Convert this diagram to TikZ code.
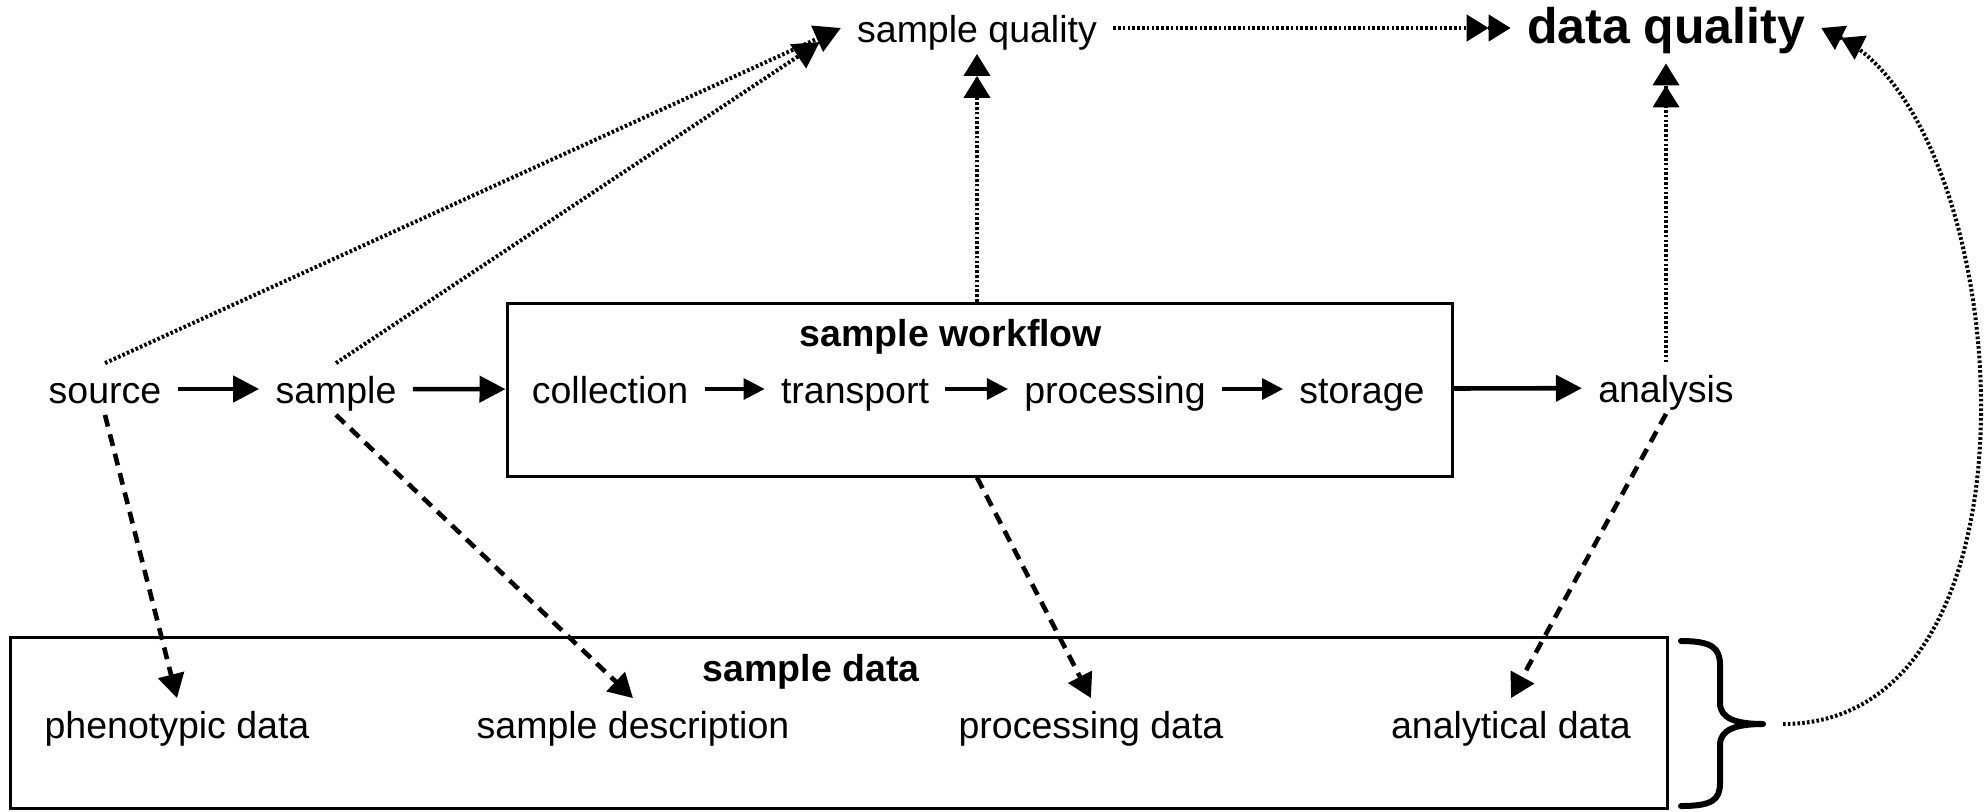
\documentclass[tikz,border=0pt]{standalone}
\usepackage{fontspec}
\setmainfont{Liberation Sans}
\usetikzlibrary{arrows.meta,calc}

\begin{document}
\begin{tikzpicture}[x=0.5pt,y=-0.5pt,
  lbl/.style={inner xsep=8pt, inner ysep=4pt, text height=16pt, text depth=1.5pt,
              font=\fontsize{18.75pt}{22pt}\selectfont},
  ttl/.style={lbl, font=\fontsize{18.75pt}{22pt}\selectfont\bfseries},
  big/.style={inner xsep=8pt, inner ysep=6pt, text height=19.25pt, text depth=3.75pt,
              font=\fontsize{25pt}{30pt}\selectfont\bfseries},
  frame/.style={draw, line width=1.5pt, inner sep=0pt},
  flow/.style={line width=2.3pt, -{Triangle[length=13pt,width=13pt]}},
  inflow/.style={line width=1.7pt, -{Triangle[length=10.5pt,width=10.5pt]}},
  datalink/.style={line width=2.3pt, dash pattern=on 6pt off 4pt,
                   -{Triangle[length=12pt,width=13pt]}},
  qlink/.style={line width=2pt, dash pattern=on 1.3pt off 1.1pt,
                -{Triangle[length=13pt,width=14pt]}},
  qqlink/.style={line width=2pt, dash pattern=on 1.3pt off 1.1pt,
                 -{Triangle[length=11pt,width=13pt]Triangle[length=11pt,width=13pt]}},
]
\useasboundingbox[fill=white] (0,0) rectangle (1986,811);

% quality nodes
\node[lbl] (sq) at (977,28) {sample quality};
\node[big] (dq) at (1666,28) {data quality};

% main chain
\node[lbl] (src) at (105,389) {source};
\node[lbl] (smp) at (336,389) {sample};
\node[frame, minimum width=472.5pt, minimum height=86.5pt] (wf) at (979.5,389.5) {};
\node[ttl] (wft) at (951,332) {sample workflow};
\node[lbl] (col) at (610,389) {collection};
\node[lbl] (tra) at (855,389) {transport};
\node[lbl] (pro) at (1115,389) {processing};
\node[lbl] (sto) at (1362,389) {storage};
\node[lbl] (ana) at (1666,388) {analysis};

% data box
\node[frame, minimum width=828.5pt, minimum height=85.5pt] (sd) at (838.5,722.5) {};
\node[ttl] (sdt) at (811,667) {sample data};
\node[lbl] (phe) at (177,724) {phenotypic data};
\node[lbl] (sde) at (633,724) {sample description};
\node[lbl] (prd) at (1091,724) {processing data};
\node[lbl] (anl) at (1511,724) {analytical data};

% brace grouping the data box
\coordinate (brtip) at (1763,724);
\draw[line width=3pt, line cap=round, line join=round]
  (1681,641) .. controls (1712,641) and (1720,648) .. (1720,665) -- (1720,703)
  .. controls (1720,718) and (1735,724) .. (brtip)
  .. controls (1735,724) and (1720,730) .. (1720,745) -- (1720,783)
  .. controls (1720,800) and (1712,806) .. (1681,806);
\coordinate (qs) at (1783,724);

% solid flow
\draw[flow] (src) -- (smp);
\draw[flow] (smp) -- (wf);
\draw[inflow] (col) -- (tra);
\draw[inflow] (tra) -- (pro);
\draw[inflow] (pro) -- (sto);
\draw[flow] (wf) -- (ana);

% quality links
\draw[qlink] (src.north) -- (sq.west);
\draw[qlink] (smp.north) -- ($(sq.west)+(-21,14)$);
\draw[qqlink] (sq.south |- wf.north) -- (sq.south);
\draw[qqlink] (sq) -- (dq);
\draw[qqlink] (ana) -- (dq);
\draw[qqlink] (qs) .. controls (2060,724) and (2015,125) .. (dq.east);

% data links
\draw[datalink] (src.south) -- (phe.north);
\draw[datalink] (smp.south) -- (sde.north);
\draw[datalink] (sq.south |- wf.south) -- (prd.north);
\draw[datalink] (ana.south) -- (anl.north);
\end{tikzpicture}
\end{document}
